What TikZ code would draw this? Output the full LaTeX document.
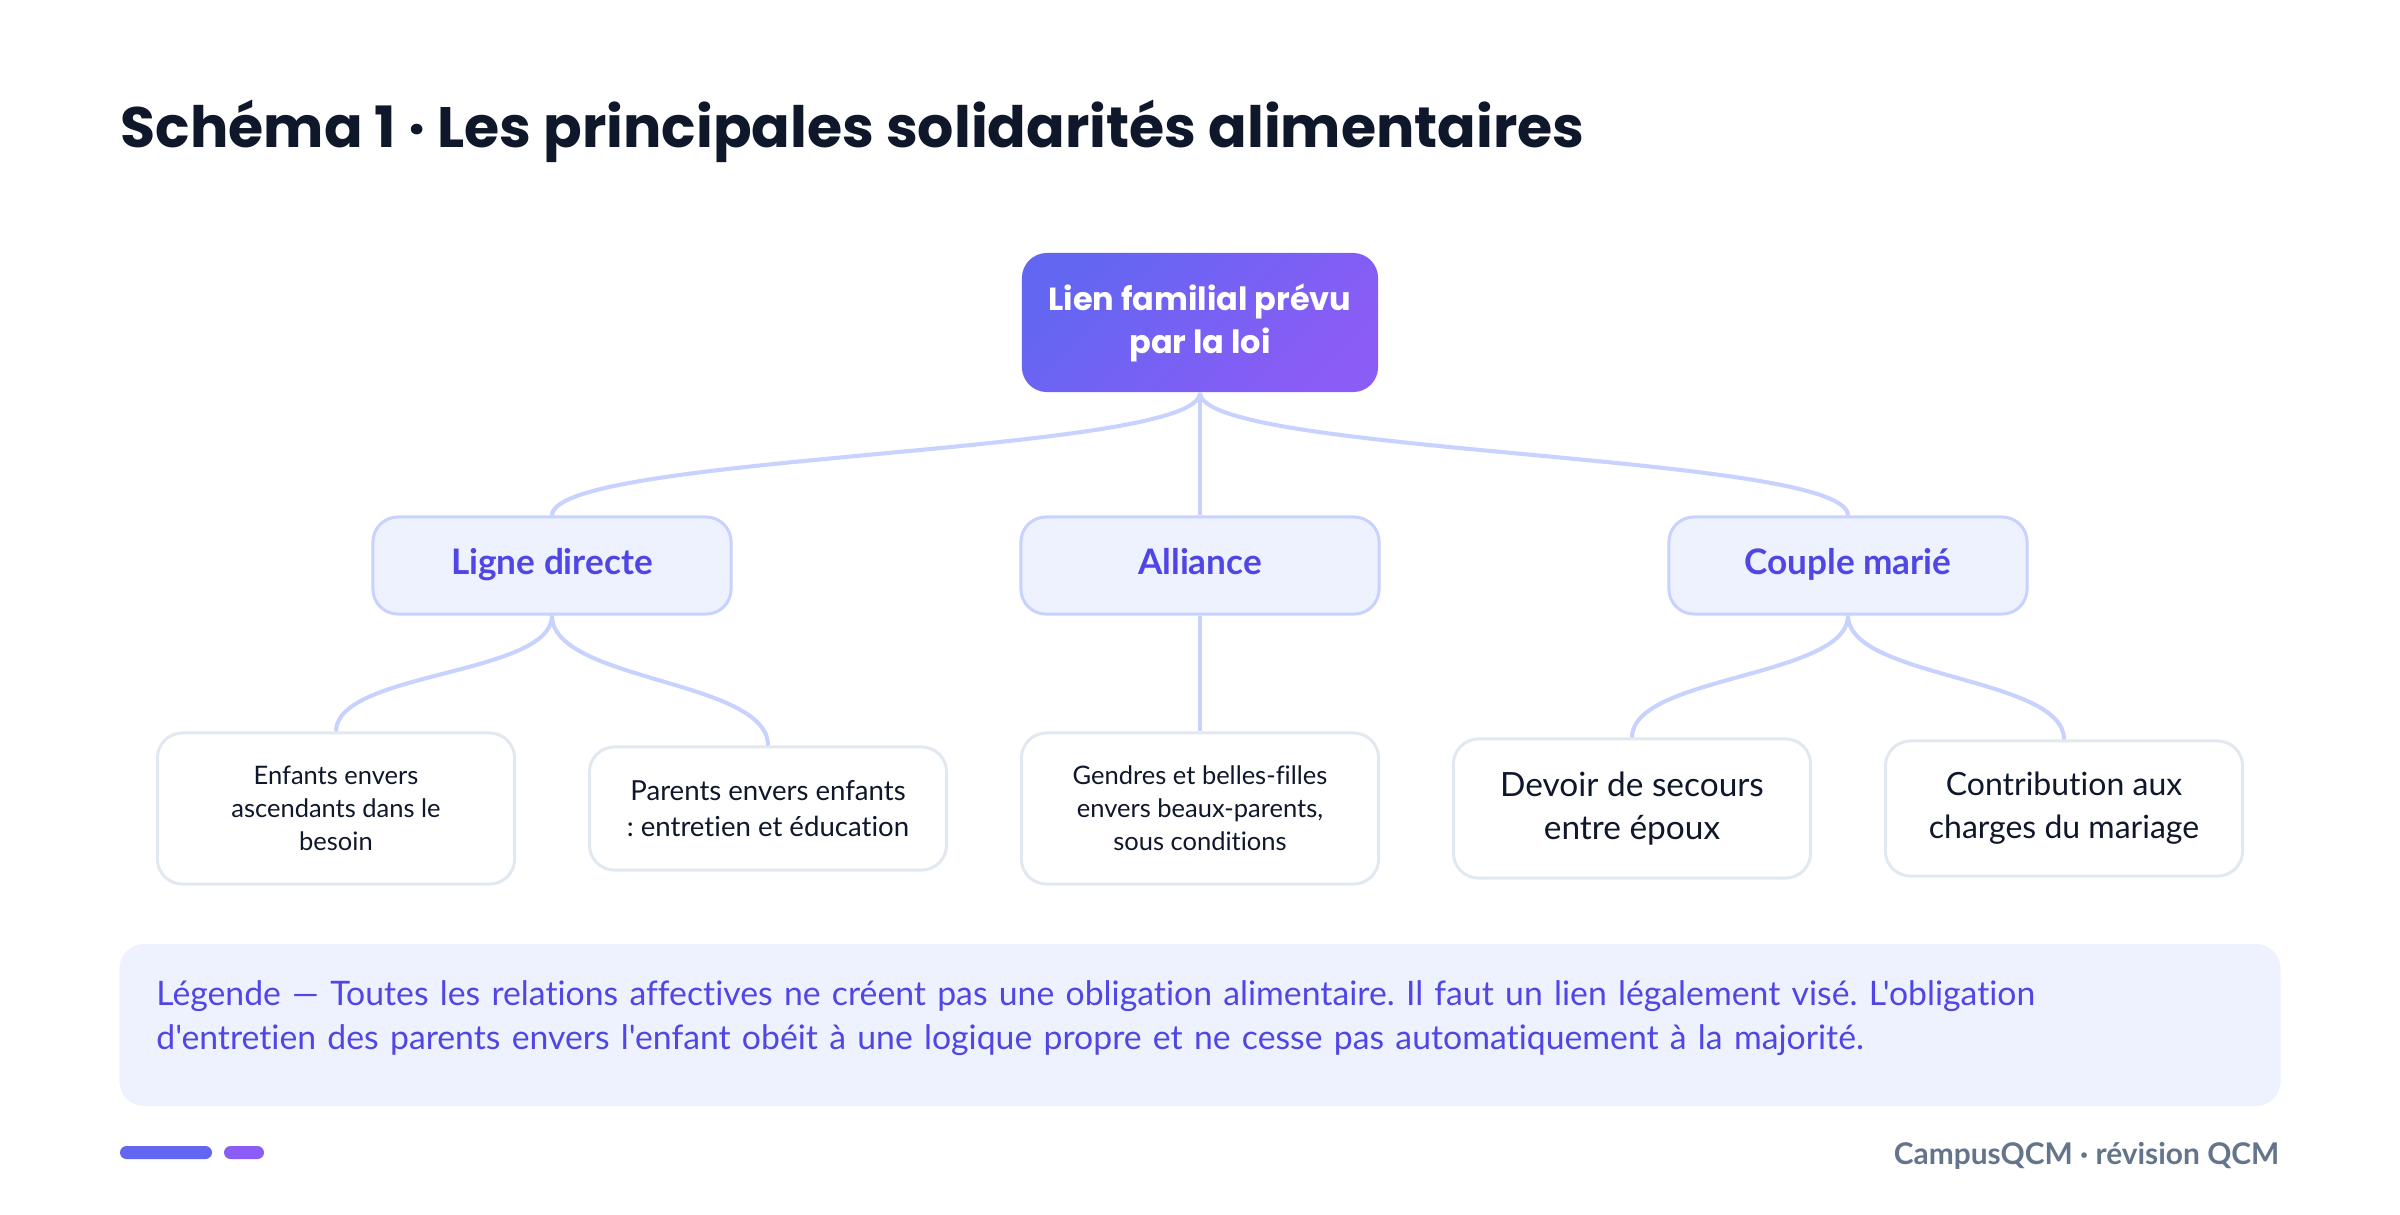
\documentclass[tikz,border=0pt]{standalone}
\usepackage{fontspec}
\setmainfont{Lato}[Ligatures={TeXOff,NoCommon}]
\newfontfamily\heavyfont{Poppins}[Ligatures={TeXOff,NoCommon}]
\usepackage{xcolor}
\usetikzlibrary{positioning}
\definecolor{ink}{HTML}{0F172A}
\definecolor{indigo}{HTML}{6366F1}
\definecolor{violet}{HTML}{8B5CF6}
\definecolor{brand}{HTML}{4F46E5}
\definecolor{paleblue}{HTML}{EEF2FF}
\definecolor{linkblue}{HTML}{C7D2FE}
\definecolor{greyline}{HTML}{E2E8F0}
\definecolor{slate}{HTML}{64748B}
\frenchspacing

\begin{document}
\begin{tikzpicture}[x=0.01cm, y=-0.01cm,
    top_box/.style={rounded corners=0.25cm, top color=indigo, bottom color=violet, shading angle=45,
        minimum width=3.56cm, minimum height=1.39cm, align=center, text=white,
        font=\heavyfont\bfseries\fontsize{9.1}{12.2}\selectfont},
    branch_box/.style={draw=linkblue, line width=0.85pt, fill=paleblue, rounded corners=0.25cm,
        minimum width=3.58cm, minimum height=0.97cm, text=brand, text height=0.72em, text depth=0.22em,
        font=\bfseries\fontsize{10}{12}\selectfont},
    leaf_box/.style={draw=greyline, line width=0.85pt, fill=white, rounded corners=0.25cm,
        minimum width=3.57cm, align=center, text=ink},
    link/.style={draw=linkblue, line width=1.15pt}]

    \fill[white] (0,0) rectangle (2400,1214);
    \useasboundingbox (0,0) rectangle (2400,1214);

    \node (title) [anchor=base west, inner sep=0, text=ink, font=\heavyfont\bfseries\fontsize{16.2}{18}\selectfont] at (120,147) {Schéma 1 · Les principales solidarités alimentaires};

    % top of the tree
    \node (root_link) [top_box] at (1200,322.5) {Lien familial prévu\\par la loi};

    % second level
    \node (direct_line) [branch_box] at (552,565.5) {Ligne directe};
    \node (alliance) [branch_box] at (1200,565.5) {Alliance};
    \node (married_couple) [branch_box] at (1848,565.5) {Couple marié};

    % leaves
    \node (children_duty) [leaf_box, minimum height=1.51cm, font=\fontsize{7.25}{9.4}\selectfont] at (336,808.5) {Enfants envers\\ascendants dans le\\besoin};
    \node (parents_duty) [leaf_box, minimum height=1.23cm, font=\fontsize{7.85}{10.2}\selectfont] at (768,808.5) {Parents envers enfants\\: entretien et éducation};
    \node (in_laws) [leaf_box, minimum height=1.51cm, font=\fontsize{7.25}{9.4}\selectfont] at (1200,808.5) {Gendres et belles-filles\\envers beaux-parents,\\sous conditions};
    \node (spouse_help) [leaf_box, minimum height=1.39cm, font=\fontsize{9.5}{12.2}\selectfont] at (1632,808.5) {Devoir de secours\\entre époux};
    \node (marriage_costs) [leaf_box, minimum height=1.35cm, font=\fontsize{9.1}{12.2}\selectfont] at (2064,808.5) {Contribution aux\\charges du mariage};

    \draw[link] (root_link.south) .. controls +(0,62) and +(0,-62) .. (direct_line.north);
    \draw[link] (root_link) -- (alliance);
    \draw[link] (root_link.south) .. controls +(0,62) and +(0,-62) .. (married_couple.north);

    \draw[link] (direct_line.south) .. controls +(0,60) and +(0,-60) .. (children_duty.north);
    \draw[link] (direct_line.south) .. controls +(0,66) and +(0,-66) .. (parents_duty.north);
    \draw[link] (alliance) -- (in_laws);
    \draw[link] (married_couple.south) .. controls +(0,62) and +(0,-62) .. (spouse_help.north);
    \draw[link] (married_couple.south) .. controls +(0,63) and +(0,-63) .. (marriage_costs.north);

    % legend and footer
    \node (legend) [fill=paleblue, rounded corners=0.25cm, minimum width=21.6cm, minimum height=1.62cm,
        inner xsep=0.37cm, text width=20.86cm, align=left, text=brand,
        font=\fontsize{9.6}{12.5}\selectfont] at (1200,1025) {Légende — Toutes les relations affectives ne créent pas une obligation alimentaire. Il faut un lien légalement visé. L'obligation\\d'entretien des parents envers l'enfant obéit à une logique propre et ne cesse pas automatiquement à la majorité.\rule[-0.2cm]{0pt}{0.2cm}};

    \fill[indigo, rounded corners=0.065cm] (120,1146) rectangle (212,1159);
    \fill[violet, rounded corners=0.065cm] (224,1146) rectangle (264,1159);
    \node (footer) [anchor=base east, inner sep=0, text=slate, font=\bfseries\fontsize{8.5}{10}\selectfont] at (2280,1164) {CampusQCM · révision QCM};
\end{tikzpicture}
\end{document}
